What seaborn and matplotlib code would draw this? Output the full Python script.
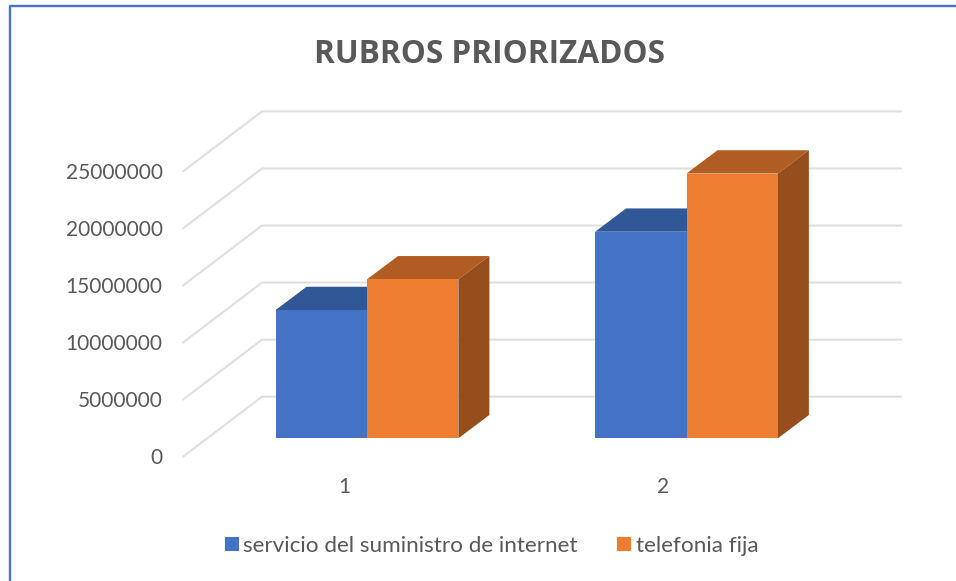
import matplotlib
matplotlib.use("Agg")
import matplotlib.pyplot as plt
from matplotlib.patches import Polygon
from matplotlib.lines import Line2D
import seaborn as sns
import pandas as pd

groups = ["1", "2"]
internet = [11240000, 18100000]
telefonia = [13930000, 23200000]
series_names = ["servicio del suministro de internet", "telefonia fija"]
y_ticks = [0, 5000000, 10000000, 15000000, 20000000, 25000000]
title = "RUBROS PRIORIZADOS"

COL = ["#4472C4", "#ED7D31"]
TOP = ["#325796", "#B15C22"]
SIDE = ["#2A4A80", "#964F1C"]
GRID = "#DFDFDF"
TXT = "#595959"
W, H = 956, 581
sns.set_theme(style="white")
plt.rcParams["font.family"] = ["Lato", "DejaVu Sans"]

df = pd.DataFrame({
    "grupo": groups * 2,
    "serie": [series_names[0]] * 2 + [series_names[1]] * 2,
    "valor": internet + telefonia,
})

fig = plt.figure(figsize=(W / 100, H / 100), dpi=100, facecolor="white")
ax = fig.add_axes([0, 0, 1, 1])
ax.patch.set_alpha(0)

# pixel mapping of the frame
PX = 319.5          # px per category
PY = 57.06 / 5e6    # px per unit
X0, Y0 = 367.0, 438.3
px2x = lambda p: (p - X0) / PX
py2y = lambda p: (Y0 - p) / PY

back = py2y(396.7)
front = py2y(456.7)
xf, xb, xr = px2x(183), px2x(262), px2x(901)
for v in y_ticks:
    ax.plot([xf, xb, xr], [v + front, v + back, v + back], color=GRID, lw=1.5, zorder=1, solid_joinstyle="miter")

sns.barplot(data=df, x="grupo", y="valor", hue="serie", order=groups, hue_order=series_names,
            palette=COL, width=0.572, saturation=1, gap=0, dodge=True, legend=False, ax=ax, zorder=3,
            linewidth=0)
ax.set_xlim(px2x(0), px2x(W))
ax.set_ylim(py2y(H), py2y(0))

dx, dy = 31 / PX, 23.3 / PY
bars = list(ax.patches)
for i, b in enumerate(bars):
    s = 0 if b.get_facecolor()[0] < 0.5 else 1
    b.set_linewidth(0)
    b.set_zorder(3 if s == 0 else 4)
    l, r, h = b.get_x(), b.get_x() + b.get_width(), b.get_height()
    z = 2.9 if s == 0 else 3.5
    ax.add_patch(Polygon([(l, h), (r, h), (r + dx, h + dy), (l + dx, h + dy)], closed=True, fc=TOP[s], ec="none", zorder=z))
    ax.add_patch(Polygon([(r, 0), (r + dx, dy), (r + dx, h + dy), (r, h)], closed=True, fc=SIDE[s], ec="none", zorder=z))

# axes text on the front plane
for sp in ("top", "right"):
    ax.spines[sp].set_visible(False)
ax.spines["left"].set_position(("data", px2x(172)))
ax.spines["bottom"].set_position(("data", py2y(470)))
ax.spines["left"].set_visible(False)
ax.spines["bottom"].set_visible(False)
ax.set_yticks([v + py2y(456.3) for v in y_ticks], [str(v) for v in y_ticks])
ax.set_xticks([0 - 23 / PX, 1 - 23 / PX], groups)
ax.tick_params(axis="y", length=0, pad=6.7, labelsize=15, labelcolor=TXT, left=True)
ax.tick_params(axis="x", length=0, pad=5, labelsize=15, labelcolor=TXT, bottom=True)
ax.set_xlabel("")
ax.set_ylabel("")

ax.text(px2x(490), py2y(54), title, ha="center", va="center", fontsize=22.7, fontweight="bold", color=TXT,
        family="Open Sans")

handles = [Line2D([], [], ls="none", marker="s", ms=10, mfc=c, mew=0) for c in COL]
fig.legend(handles, series_names, loc="center", bbox_to_anchor=(491.6 / W, 1 - 545.5 / H), ncol=2, frameon=False,
           fontsize=16.2, labelcolor=TXT, handlelength=0.65, handletextpad=0.18, columnspacing=1.74)

# outer frame
fig.add_artist(Line2D([10 / W, 10 / W, 1], [0, 1 - 6 / H, 1 - 6 / H], color="#4472C4", lw=1.7, transform=fig.transFigure))

fig.savefig("out.png", dpi=100)
